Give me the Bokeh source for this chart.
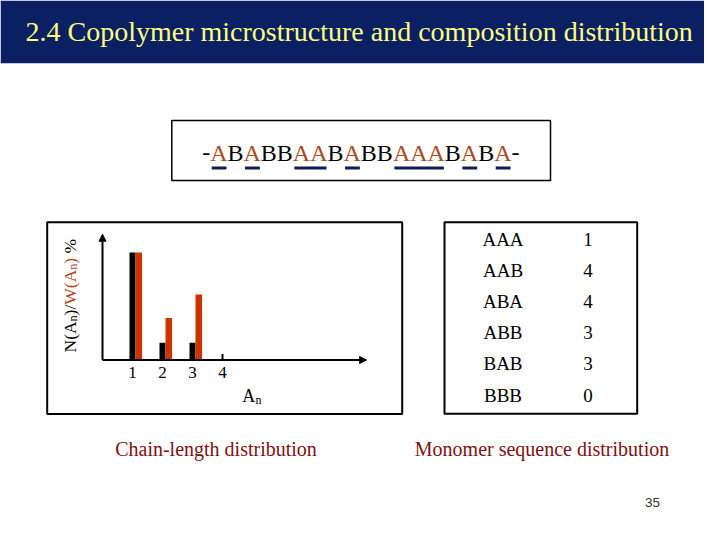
import numpy as np
from bokeh.plotting import figure
from bokeh.models import Range1d, Arrow, NormalHead, ColumnDataSource
from bokeh.core.properties import value
from bokeh.embed import file_html
from bokeh.resources import INLINE

# ---------------- data ----------------
title = "2.4 Copolymer microstructure and composition distribution"
sequence = "ABABBAABABBAAABABA"
run_lengths = [1, 2, 3]            # A_n
n_values = [100, 16, 16]           # N(A_n), relative bar height
w_values = [100, 39, 61]           # W(A_n), relative bar height
x_ticks = [1, 2, 3, 4]
triads = ["AAA", "AAB", "ABA", "ABB", "BAB", "BBB"]
triad_counts = [1, 4, 4, 3, 3, 0]
caption_left = "Chain-length distribution"
caption_right = "Monomer sequence distribution"
page_number = "35"

# ---------------- style ----------------
SERIF = value("Liberation Serif")
NAVY = "#0b1f63"
TITLE_COL = "#ffff80"
A_COL = "#ad4a22"
BAR_RED = "#cc3300"
MAROON = "#801010"
ULINE = "#17175c"

p = figure(width=704, height=524, x_range=Range1d(0, 704), y_range=Range1d(524, 0),
           x_axis_location=None, y_axis_location=None, toolbar_location=None,
           output_backend="svg", min_border=0, outline_line_color=None,
           background_fill_color="white", border_fill_color="white")
p.grid.visible = False

# header band + title
p.quad(left=[0], right=[720], top=[0], bottom=[62.7], fill_color=NAVY, line_color=None)
p.text(x=[25], y=[30.5], text=[title], text_font=SERIF, text_font_size="28px",
       text_color=TITLE_COL, text_baseline="alphabetic", text_align="left")

# ---------------- sequence box ----------------
p.quad(left=[171.3], right=[550], top=[120], bottom=[180], fill_color=None,
       line_color="black", line_width=1.5)
fs = 24
adv = {"A": 0.722 * fs, "B": 0.667 * fs, "-": 0.333 * fs}
full = "-" + sequence + "-"
xs, cols = [], []
cx = 201.7
for ch in full:
    xs.append(cx)
    cols.append(A_COL if ch == "A" else "black")
    cx += adv[ch]
p.text(x=xs, y=[152] * len(full), text=list(full), text_color=cols, text_font=SERIF,
       text_font_size=f"{fs}px", text_baseline="alphabetic", text_align="left")

# underline runs of A
u0, u1 = [], []
i = 0
while i < len(full):
    if full[i] == "A":
        j = i
        while j + 1 < len(full) and full[j + 1] == "A":
            j += 1
        u0.append(xs[i] + 1.5)
        u1.append(xs[j] + adv["A"] - 1.0)
        i = j + 1
    else:
        i += 1
p.segment(x0=u0, x1=u1, y0=[167.5] * len(u0), y1=[167.5] * len(u0),
          line_color=ULINE, line_width=3)

# ---------------- chain-length chart ----------------
p.quad(left=[46.7], right=[401.7], top=[221.7], bottom=[413.5], fill_color=None,
       line_color="black", line_width=2)

ux, x0px = 30.0, 102.0
uy, y0px = 1.075, 359.5
p.extra_x_ranges = {"bx": Range1d((0 - x0px) / ux, (704 - x0px) / ux)}
p.extra_y_ranges = {"by": Range1d((y0px - 524) / uy, (y0px - 0) / uy)}

# ticks
p.segment(x0=x_ticks, x1=x_ticks, y0=[0] * len(x_ticks), y1=[5.5] * len(x_ticks),
          line_color="black", line_width=2, x_range_name="bx", y_range_name="by")

src = ColumnDataSource(dict(x=run_lengths, xr=[v + 0.21 for v in run_lengths],
                            n=n_values, w=w_values))
p.vbar(x="x", top="n", bottom=0, width=0.2, source=src, fill_color="black",
       line_color=None, x_range_name="bx", y_range_name="by")
p.vbar(x="xr", top="w", bottom=0, width=0.22, source=src, fill_color=BAR_RED,
       line_color=None, x_range_name="bx", y_range_name="by")

head = dict(size=7, fill_color="black", line_color="black")
p.add_layout(Arrow(end=NormalHead(**head), x_start=0, y_start=0, x_end=0, y_end=117,
                   line_width=2, x_range_name="bx", y_range_name="by"))
p.add_layout(Arrow(end=NormalHead(**head), x_start=0, y_start=0, x_end=8.8, y_end=0,
                   line_width=2, x_range_name="bx", y_range_name="by"))

p.text(x=x_ticks, y=[0] * len(x_ticks), y_offset=12, text=[str(t) for t in x_ticks],
       text_font=SERIF, text_font_size="17px", text_align="center",
       text_baseline="alphabetic", x_range_name="bx", y_range_name="by")

# x label A_n
p.text(x=[241.7], y=[395.5], text=["A"], text_font=SERIF, text_font_size="18px",
       text_baseline="alphabetic", text_align="left")
p.text(x=[255.0], y=[399.5], text=["n"], text_font=SERIF, text_font_size="12px",
       text_baseline="alphabetic", text_align="left")

# rotated y label  N(A_n)/W(A_n) %
big, small = 17.5, 12
parts = [("N(A", big, "black", 0, 0), ("n", small, "black", 3.5, 0),
         (")/", big, "black", 0, 0), ("W(A", big, A_COL, 0, 0),
         ("n", small, A_COL, 3.5, 0), (")", big, A_COL, 0, 0),
         ("%", big, "black", 0, 0.25)]
wid = {"N": .722, "(": .333, "A": .722, "n": .5, ")": .333, "/": .278, "W": .944,
       " ": .25, "%": .833}
yy = 352.0
for txt, sz, col, sub, gap in parts:
    yy -= gap * sz
    p.text(x=[69 + sub], y=[yy], text=[txt], angle=np.pi / 2, text_font=SERIF,
           text_font_size=f"{sz}px", text_color=col, text_baseline="alphabetic",
           text_align="left")
    yy -= sum(wid[c] for c in txt) * sz

# ---------------- triad table ----------------
p.quad(left=[444], right=[636.7], top=[221.7], bottom=[413.3], fill_color=None,
       line_color="black", line_width=2)
rows_y = [238.5 + k * 31.2 for k in range(len(triads))]
p.text(x=[502.5] * len(triads), y=rows_y, text=triads, text_font=SERIF,
       text_font_size="19px", text_align="center", text_baseline="alphabetic")
p.text(x=[587.5] * len(triads), y=rows_y, text=[str(c) for c in triad_counts],
       text_font=SERIF, text_font_size="19px", text_align="center",
       text_baseline="alphabetic")

# captions
p.text(x=[215.5, 541.5], y=[448, 448], text=[caption_left, caption_right],
       text_font=SERIF, text_font_size="20px", text_color=MAROON,
       text_align="center", text_baseline="alphabetic")
p.text(x=[652], y=[502], text=[page_number], text_font=value("Liberation Sans"),
       text_font_size="13.5px", text_color="#333333", text_align="center",
       text_baseline="alphabetic")

open("out.html", "w").write(file_html(p, INLINE))
